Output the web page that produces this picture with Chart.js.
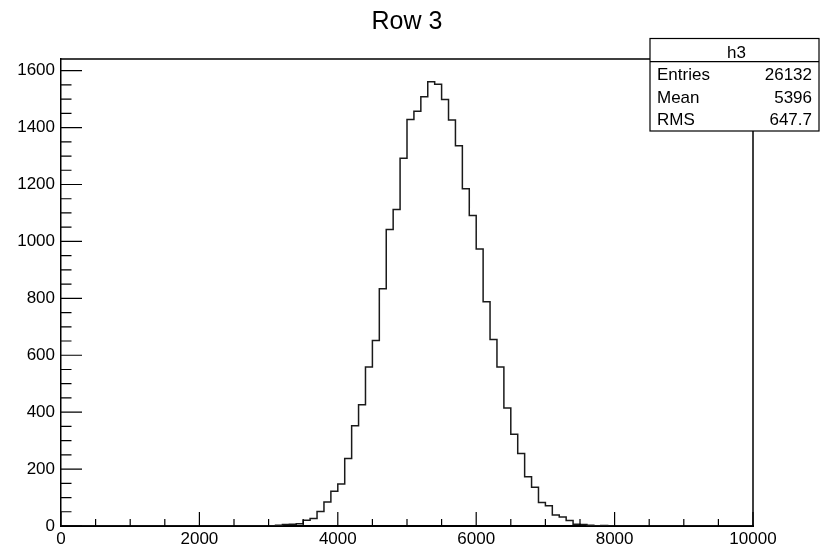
<!DOCTYPE html>
<html>
<head>
<meta charset="utf-8">
<script src="https://cdn.jsdelivr.net/npm/chart.js@4.4.1/dist/chart.umd.min.js"></script>
<style>
  html, body { margin: 0; padding: 0; background: #fff; }
  #wrap { width: 821px; height: 552px; }
</style>
</head>
<body>
<div id="wrap"><canvas id="hist" width="821" height="552"></canvas></div>
<script>
// histogram h3: 100 bins from 0 to 10000
const binLow = 0;
const binWidth = 100;
const binCounts = [
  0, 0, 0, 0, 0, 0, 0, 0, 0, 0,
  0, 0, 0, 0, 0, 0, 0, 0, 0, 0,
  0, 0, 0, 0, 0, 0, 0, 0, 0, 0,
  0, 3, 5, 6, 8, 20, 26, 51, 84, 122,
  148, 237, 352, 426, 559, 652, 834, 1042, 1112, 1292,
  1428, 1457, 1508, 1561, 1552, 1499, 1427, 1336, 1185, 1091,
  973, 788, 655, 559, 415, 322, 255, 173, 136, 83,
  71, 39, 32, 19, 6, 5, 3, 0, 2, 0,
  0, 0, 0, 0, 0, 0, 0, 0, 0, 0,
  0, 0, 0, 0, 0, 0, 0, 0, 0, 0
];
const xTicks = [0, 2000, 4000, 6000, 8000, 10000];
const yTicks = [0, 200, 400, 600, 800, 1000, 1200, 1400, 1600];
const yMax = 1641;

const titleText = "Row 3";
const statsName = "h3";
const statsLabels = ["Entries", "Mean", "RMS"];
const statsValues = ["26132", "5396", "647.7"];

const FONT = "'Liberation Sans', Arial, Helvetica, sans-serif";

// one point per bin at its low edge, closed at the top edge;
// with stepped "before" each bin's count spans up to the next point
const points = binCounts.map((c, i) => ({ x: binLow + i * binWidth, y: c }));
points.push({ x: binLow + binCounts.length * binWidth, y: 0 });

// ROOT style frame, inner ticks, title and stats box
const rootFrame = {
  id: "rootFrame",
  afterDraw(chart) {
    const { ctx, chartArea: a, scales } = chart;
    const xs = scales.x, ys = scales.y;
    ctx.save();
    ctx.strokeStyle = "#000";
    ctx.lineWidth = 1.5;
    ctx.beginPath();
    ctx.moveTo(a.left, a.top);
    ctx.lineTo(a.right, a.top);
    ctx.lineTo(a.right, a.bottom);
    ctx.stroke();

    // x ticks every 500, long every 2000
    ctx.lineWidth = 1.2;
    ctx.beginPath();
    for (let v = 0; v <= 10000; v += 500) {
      const px = xs.getPixelForValue(v);
      const len = v % 2000 === 0 ? 14 : 7;
      ctx.moveTo(px, a.bottom);
      ctx.lineTo(px, a.bottom - len);
    }
    // y ticks every 50, long every 200
    for (let v = 0; v <= yMax; v += 50) {
      const py = ys.getPixelForValue(v);
      const len = v % 200 === 0 ? 21 : 10.5;
      ctx.moveTo(a.left, py);
      ctx.lineTo(a.left + len, py);
    }
    ctx.stroke();

    // title
    ctx.fillStyle = "#000";
    ctx.font = "25px " + FONT;
    ctx.textAlign = "center";
    ctx.textBaseline = "alphabetic";
    ctx.fillText(titleText, 407, 29);

    // stats box
    const bx = 650, by = 38.5, bw = 169, bh = 92.5;
    ctx.fillStyle = "#fff";
    ctx.fillRect(bx, by, bw, bh);
    ctx.strokeStyle = "#000";
    ctx.lineWidth = 1.2;
    ctx.strokeRect(bx, by, bw, bh);
    ctx.beginPath();
    ctx.moveTo(bx, 61.7);
    ctx.lineTo(bx + bw, 61.7);
    ctx.stroke();
    ctx.fillStyle = "#000";
    ctx.font = "17px " + FONT;
    ctx.textAlign = "center";
    ctx.fillText(statsName, bx + bw / 2 + 2, 57.5);
    const rowBase = [80, 102.5, 124.5];
    statsLabels.forEach((lab, i) => {
      ctx.textAlign = "left";
      ctx.fillText(lab, 657, rowBase[i]);
      ctx.textAlign = "right";
      ctx.fillText(statsValues[i], 812, rowBase[i]);
    });
    ctx.restore();
  }
};

new Chart(document.getElementById("hist"), {
  type: "line",
  data: {
    datasets: [{
      label: statsName,
      data: points,
      stepped: "before",
      borderColor: "#1a1a1a",
      borderWidth: 1.5,
      pointRadius: 0,
      fill: false,
      tension: 0
    }]
  },
  options: {
    responsive: false,
    animation: false,
    events: [],
    layout: { padding: { top: 59, right: 68, left: 0, bottom: 0 } },
    plugins: {
      legend: { display: false },
      title: { display: false },
      tooltip: { enabled: false }
    },
    scales: {
      x: {
        type: "linear",
        min: 0,
        max: 10000,
        afterFit: (s) => { s.height = 26; },
        afterBuildTicks: (s) => { s.ticks = xTicks.map(v => ({ value: v })); },
        grid: { display: false, drawTicks: false },
        border: { display: true, color: "#000", width: 2 },
        ticks: {
          autoSkip: false,
          maxRotation: 0,
          padding: 3,
          color: "#000",
          font: { family: FONT, size: 17 },
          callback: (v) => String(v)
        }
      },
      y: {
        type: "linear",
        min: 0,
        max: yMax,
        afterFit: (s) => { s.width = 61; },
        afterBuildTicks: (s) => { s.ticks = yTicks.map(v => ({ value: v })); },
        grid: { display: false, drawTicks: false },
        border: { display: true, color: "#000", width: 1.5 },
        ticks: {
          autoSkip: false,
          padding: 6,
          color: "#000",
          font: { family: FONT, size: 17 },
          callback: (v) => String(v)
        }
      }
    }
  },
  plugins: [rootFrame]
});
</script>
</body>
</html>
